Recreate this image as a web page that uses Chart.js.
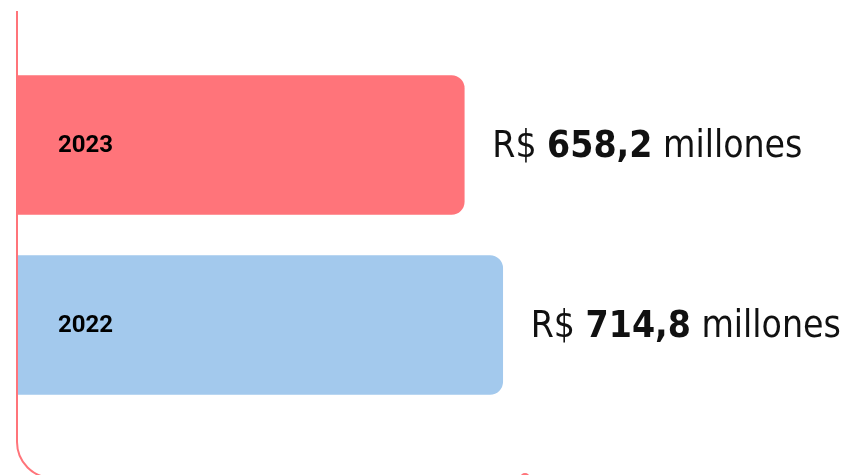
<!DOCTYPE html>
<html>
<head>
<meta charset="utf-8">
<script src="https://cdn.jsdelivr.net/npm/chart.js@4.4.1/dist/chart.umd.min.js"></script>
<style>
  html, body { margin: 0; padding: 0; background: #fff; }
  #wrap { width: 846px; height: 475px; position: relative; }
</style>
</head>
<body>
<div id="wrap"><canvas id="revChart"></canvas></div>
<script>
const years = ['2023', '2022'];
const revenue = [658.2, 714.8];
const valueText = ['658,2', '714,8'];
const barColors = ['#FF747A', '#A3C9ED'];
const lineColor = '#FF747A';

// left axis line that curves into the bottom edge, ending with a dot
const frameLine = {
    id: 'frameLine',
    afterDraw(chart) {
        const ctx = chart.ctx;
        const x0 = chart.scales.x.getPixelForValue(0);
        const yBottom = 478;
        const r = 36;
        ctx.save();
        ctx.strokeStyle = lineColor;
        ctx.lineWidth = 2;
        ctx.beginPath();
        ctx.moveTo(x0, 11);
        ctx.lineTo(x0, yBottom - r);
        ctx.arcTo(x0, yBottom, x0 + r, yBottom, r);
        ctx.lineTo(525, yBottom);
        ctx.stroke();
        ctx.fillStyle = lineColor;
        ctx.beginPath();
        ctx.arc(525, yBottom, 5, 0, Math.PI * 2);
        ctx.fill();
        ctx.restore();
    }
};

// year inside the bar and the amount after it
const barLabels = {
    id: 'barLabels',
    afterDatasetsDraw(chart) {
        const ctx = chart.ctx;
        const meta = chart.getDatasetMeta(0);
        const face = '"DejaVu Sans Condensed", "Liberation Sans Narrow", sans-serif';
        ctx.save();
        ctx.textBaseline = 'middle';
        meta.data.forEach((bar, i) => {
            ctx.fillStyle = '#000';
            ctx.font = 'bold 24px Roboto';
            ctx.textAlign = 'left';
            ctx.fillText(years[i], bar.base + 41, bar.y + 1);

            let x = bar.x + 28;
            const parts = [
                ['37px ' + face, 'R$ '],
                ['bold 37px ' + face, valueText[i]],
                ['37px ' + face, ' millones']
            ];
            parts.forEach(([font, txt]) => {
                ctx.font = font;
                ctx.fillStyle = '#111';
                ctx.fillText(txt, x, bar.y + 2);
                x += ctx.measureText(txt).width;
            });
        });
        ctx.restore();
    }
};

new Chart(document.getElementById('revChart'), {
    type: 'bar',
    data: {
        labels: years,
        datasets: [{
            data: revenue,
            backgroundColor: barColors,
            borderWidth: 0,
            borderSkipped: false,
            borderRadius: { topLeft: 0, bottomLeft: 0, topRight: 13, bottomRight: 13 },
            barThickness: 139
        }]
    },
    options: {
        indexAxis: 'y',
        responsive: true,
        maintainAspectRatio: false,
        animation: false,
        layout: { padding: { left: 17, right: 0, top: 55, bottom: 60 } },
        scales: {
            x: { display: false, min: 0, max: 1220 },
            y: { display: false }
        },
        plugins: {
            legend: { display: false },
            tooltip: { enabled: false }
        }
    },
    plugins: [frameLine, barLabels]
});
</script>
</body>
</html>
